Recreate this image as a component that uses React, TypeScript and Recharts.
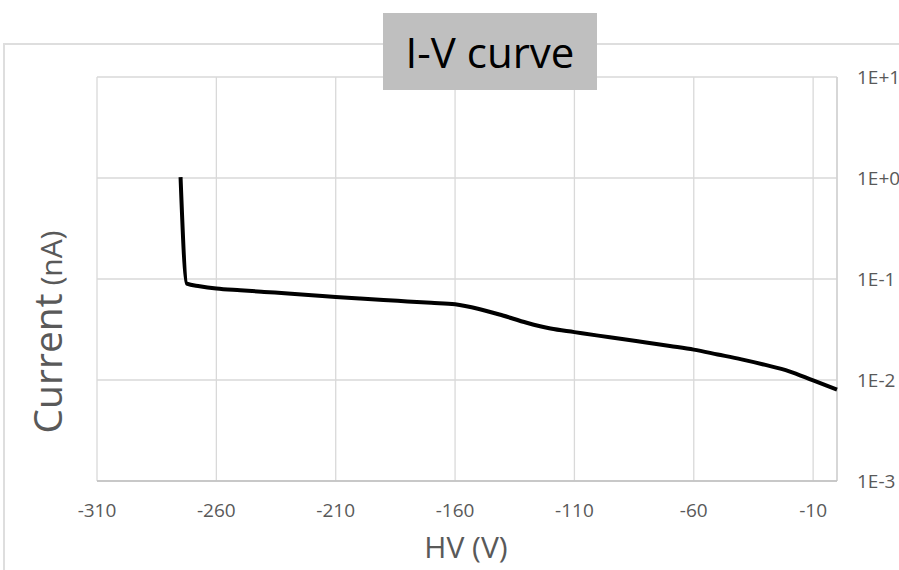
import { LineChart, Line, XAxis, YAxis, CartesianGrid, ReferenceLine } from 'recharts';

// bias voltage (V) and leakage current (nA)
const voltage = [
  -275, -272.4, -267, -260, -250, -240, -230, -220, -210, -200, -190, -180, -170,
  -160, -150, -140, -130, -120, -110, -100, -90, -80, -70, -60, -50, -40, -30,
  -20, -10, 0,
];
const current = [
  1.02, 0.09, 0.0849, 0.0805, 0.0773, 0.0745, 0.0719, 0.0692, 0.0665, 0.0641, 0.0619,
  0.06, 0.0581, 0.0562, 0.0505, 0.0435, 0.0369, 0.0323, 0.0298, 0.0275, 0.0255,
  0.0235, 0.0217, 0.02, 0.0179, 0.016, 0.0141, 0.0122, 0.00989, 0.00804,
];

const xTicks = [-310, -260, -210, -160, -110, -60, -10];
const yTicks = [0.001, 0.01, 0.1, 1, 10];

const data = voltage.map((v, i) => ({ v, i: current[i] }));

const FONT = '"Open Sans", "Noto Sans", sans-serif';
const GREY = '#595959';

const sciLabel = (val: number) => {
  const e = Math.round(Math.log10(val));
  return `1E${e < 0 ? '-' : '+'}${Math.abs(e)}`;
};

export default function App() {
  return (
    <div style={{ position: 'absolute', left: 0, top: 0, width: 899, height: 570, overflow: 'hidden', background: '#fff' }}>
      <div
        style={{
          position: 'absolute', left: 3, top: 43, width: 1000, height: 600,
          borderTop: '2px solid #dedede', borderLeft: '2px solid #dedede',
        }}
      />
      <LineChart width={899} height={570} data={data} margin={{ top: 77, right: 0, bottom: 0, left: 97 }}
        style={{ position: 'absolute', left: 0, top: 0 }}>
        <CartesianGrid stroke="#d9d9d9" strokeWidth={1.3} />
        <XAxis
          dataKey="v"
          type="number"
          domain={[-310, 0]}
          ticks={xTicks}
          height={89}
          tickLine={false}
          tickSize={0}
          tickMargin={23}
          fontSize={19}
          fontFamily={FONT}
          axisLine={{ stroke: '#bfbfbf', strokeWidth: 1.5 }}
          tick={{ fill: GREY, fontSize: 19, fontFamily: FONT }}
        />
        <YAxis
          orientation="right"
          type="number"
          scale="log"
          domain={[0.001, 10]}
          ticks={yTicks}
          allowDataOverflow
          width={62}
          tickLine={false}
          axisLine={false}
          tickSize={0}
          tickMargin={20}
          fontSize={19}
          fontFamily={FONT}
          tickFormatter={sciLabel}
          tick={{ fill: GREY, fontSize: 19, fontFamily: FONT, textAnchor: 'start' }}
        />
        <ReferenceLine x={0} stroke="#cfcfcf" strokeWidth={1.3} />
        <Line
          dataKey="i"
          type="monotone"
          stroke="#000"
          strokeWidth={4}
          dot={false}
          isAnimationActive={false}
        />
      </LineChart>
      <svg width={899} height={570} style={{ position: 'absolute', left: 0, top: 0, pointerEvents: 'none' }}>
        <text x={466} y={558} textAnchor="middle" fill={GREY} fontSize={30} fontFamily={FONT}>
          HV (V)
        </text>
        <text transform="translate(62 332) rotate(-90)" textAnchor="middle" fill={GREY} fontFamily={FONT}>
          <tspan fontSize={39}>Current</tspan>
          <tspan fontSize={30}> (nA)</tspan>
        </text>
      </svg>
      <div
        style={{
          position: 'absolute', left: 383, top: 13, width: 214, height: 77, background: '#bfbfbf',
          display: 'flex', alignItems: 'center', justifyContent: 'center',
          fontFamily: FONT, fontSize: 42, color: '#000', lineHeight: 1,
        }}
      >
        I-V curve
      </div>
    </div>
  );
}
